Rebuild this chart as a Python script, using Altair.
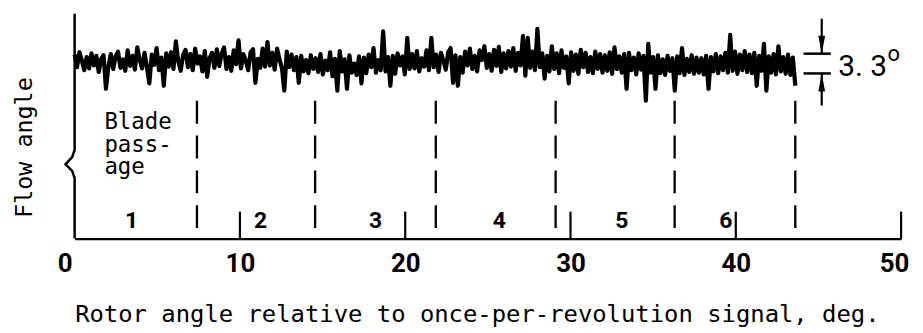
import altair as alt
import pandas as pd

# ---------------- data ----------------
x_tick_values = [0, 10, 20, 30, 40, 50]
tick_marks = [10, 20, 30, 40, 50]
passage_edges = [7.4, 14.55, 21.85, 29.1, 36.3, 43.6]
passage_labels = ["1", "2", "3", "4", "5", "6"]
passage_label_x = [3.45, 11.25, 18.2, 25.7, 33.1, 39.4]
scale_bar_deg = 3.3

trace_start = 0.0
trace_end = 43.6
# flow-angle trace, deg relative to mean (sampled left to right)
trace_vals = [
    1.2, -0.9, 1.6, 0.2, -1.4, 0.8, -1.1, 1.4, -0.6, 1.0, -1.7, 0.5, 1.1, -4.5, -0.8, 1.3, -1.2, 0.9, 1.7, -1.0,
    0.4, -1.5, 1.9, -0.7, 1.0, -1.3, 2.4, 0.3, -1.1, 1.5, -0.9, -3.6, 1.2, -0.5, 2.3, -1.4, 0.7, -4.0, 1.4, -0.8,
    1.6, -1.2, 3.4, 0.1, -1.5, 1.1, 2.0, -0.9, 1.3, -1.4, 2.2, -0.3, 0.9, -1.6, 1.8, -2.5, 0.6, 1.5, -1.0, 2.1,
    -0.7, 1.4, 2.4, -1.2, 0.8, -1.5, 1.9, -0.4, 3.6, -1.1, 1.3, 0.2, -1.4, 1.6, 2.1, -3.5, 0.5, -1.0, 2.2, -0.8,
    3.3, -0.6, 1.5, -1.3, 2.2, 0.4, -1.0, -4.8, 1.7, -0.9, 1.2, -1.4, 0.8, -3.5, 1.0, -1.6, 0.3, -1.9, 1.1, -1.2,
    0.6, -1.7, 1.3, -2.1, 0.2, -1.4, 1.6, -2.4, 0.5, -4.8, 1.8, -1.6, 0.4, -4.5, 1.1, -1.8, -0.3, -2.2, 0.9, -3.6,
    0.7, -1.9, 1.2, -0.9, 2.3, -1.8, 0.3, -1.4, 5.1, -1.6, 0.8, -4.0, 1.0, -2.0, 1.4, -0.6, 0.9, -2.1, 4.0, -1.2,
    1.3, -1.1, 1.8, -1.6, 0.6, -0.8, 1.9, -1.4, 4.0, -0.9, 1.2, -1.7, 1.5, 0.2, -1.3, 1.6, 2.3, -3.5, 1.1, -4.0,
    0.8, -1.8, 1.7, -0.6, 2.2, -1.2, 1.0, -1.6, 1.9, 0.3, 2.6, -1.0, 1.3, -1.5, 2.0, -0.7, 2.5, -1.7, 1.4, -1.1,
    1.8, -0.8, 2.3, -1.5, 1.5, -0.6, 4.3, -2.3, 4.0, -1.0, 1.7, -1.4, 5.5, -0.9, 1.4, -2.8, 1.0, -1.6, 2.6, -1.2,
    1.4, -1.9, 1.9, -1.0, 0.9, -3.6, 1.6, -1.5, 1.2, -2.0, 2.0, -0.9, 1.5, -1.7, 0.8, -1.9, 1.7, -1.2, 1.3, -1.8,
    1.1, -1.5, 1.6, -2.0, 2.4, -1.2, 0.9, -1.8, 1.3, -4.5, 1.5, -1.4, 0.7, -2.1, 1.4, -1.3, 1.0, -6.5, 3.0, -1.8,
    0.8, -4.5, 1.1, -1.9, 0.4, -2.2, 1.0, -1.5, 0.6, -4.8, 0.9, -1.9, 2.3, -2.2, 0.5, -1.7, 1.1, -2.0, 0.7, -1.8,
    0.6, -2.1, 1.0, -4.5, 0.8, -1.6, 1.3, -1.9, 0.9, -1.4, 1.5, -1.8, 4.5, -1.5, 1.7, -2.0, 1.2, -1.4, 1.8, -1.7,
    1.2, -1.9, 1.5, -4.0, 1.0, -1.5, 3.0, -4.8, 0.9, -1.8, 1.3, -2.1, 2.6, -1.6, 0.8, -2.0, 1.2, -2.2, 0.7, -4.0,
]

# ---------------- layout / style ----------------
Y_MIN, Y_MAX = -29.5, 8.5
X_MIN, X_MAX = 0, 50
dash_top = -6.5
tick_len = 4.5
text_font = "DejaVu Sans Mono"
num_font = "Roboto"

# y-axis line with break symbol (data units)
yline_x = [0, 0, -0.15, -0.55, -0.15, 0, 0]
yline_y = [8.0, -14.7, -15.9, -17.1, -18.2, -19.4, Y_MIN]

xscale = alt.Scale(domain=[X_MIN, X_MAX], nice=False, zero=False)
yscale = alt.Scale(domain=[Y_MIN, Y_MAX], nice=False, zero=False)

xaxis = alt.Axis(
    values=x_tick_values, ticks=False, tickSize=0, grid=False,
    domainColor="black", domainWidth=2.2,
    labelFont=num_font, labelFontWeight="bold", labelFontSize=26, labelColor="black",
    labelPadding=12, labelFlush=False,
    labelOffset={"expr": "datum.value == 0 ? -10 : (datum.value == 50 ? -7 : 0)"},
    title="Rotor angle relative to once-per-revolution signal, deg.",
    titleFont=text_font, titleFontSize=24, titleFontWeight="normal", titleColor="black",
    titleAnchor="start", titleAlign="left", titleX=0, titleY=64, titleBaseline="top",
)
yaxis = alt.Axis(
    domain=False, ticks=False, labels=False, grid=False,
    title="Flow angle", titleFont=text_font, titleFontSize=23.5, titleFontWeight="normal",
    titleColor="black", titleX=-50, titleY=137, titleAngle=270, titleAlign="center",
    titleBaseline="middle",
)


def X(field):
    return alt.X(field, type="quantitative", scale=xscale, axis=xaxis)


def Y(field):
    return alt.Y(field, type="quantitative", scale=yscale, axis=yaxis)


n = len(trace_vals)
step = (trace_end - trace_start) / (n - 1)
trace_df = pd.DataFrame({"x": [trace_start + i * step for i in range(n)], "y": trace_vals, "i": list(range(n))})

trace = alt.Chart(trace_df).mark_line(color="black", strokeWidth=4.2, strokeJoin="round").encode(
    x=X("x"), y=Y("y"), order=alt.Order("i:Q")
)

yline_df = pd.DataFrame({"x": yline_x, "y": yline_y, "i": list(range(len(yline_x)))})
yline = alt.Chart(yline_df).mark_line(color="black", strokeWidth=2.5).encode(
    x=X("x"), y=Y("y"), order=alt.Order("i:Q")
)

dash_df = pd.DataFrame({"x": passage_edges, "y": [dash_top] * len(passage_edges), "y2": [Y_MIN] * len(passage_edges)})
dashes = alt.Chart(dash_df).mark_rule(color="black", strokeWidth=2.3, strokeDash=[23, 12]).encode(
    x=X("x"), y=Y("y"), y2="y2"
)

tick_df = pd.DataFrame({"x": tick_marks, "y": [Y_MIN] * len(tick_marks), "y2": [Y_MIN + tick_len] * len(tick_marks)})
ticks = alt.Chart(tick_df).mark_rule(color="black", strokeWidth=2.2).encode(
    x=X("x"), y=Y("y"), y2="y2"
)

num_df = pd.DataFrame({"x": passage_label_x, "y": [-26.5] * len(passage_label_x), "t": passage_labels})
nums = alt.Chart(num_df).mark_text(
    font=num_font, fontSize=23, fontWeight="bold", color="black", baseline="middle", align="center"
).encode(x=X("x"), y=Y("y"), text="t:N")

blade_df = pd.DataFrame({"x": [1.8], "y": [-8.3], "t": ["Blade\npass-\nage"]})
blade = alt.Chart(blade_df).mark_text(
    font=text_font, fontSize=22.5, color="black", align="left", baseline="top", lineBreak="\n", lineHeight=22.5
).encode(x=X("x"), y=Y("y"), text="t:N")

# scale marker 3.3 deg
bar_top = 1.36
bar_bot = bar_top - scale_bar_deg
bars_df = pd.DataFrame({"x": [44.1, 44.1], "x2": [45.75, 45.75], "y": [bar_top, bar_bot]})
bars = alt.Chart(bars_df).mark_rule(color="black", strokeWidth=2.5).encode(
    x=X("x"), x2="x2", y=Y("y")
)
arrow_df = pd.DataFrame({"x": [45.2, 45.2], "y": [7.2, bar_bot], "y2": [bar_top, -7.3]})
arrow_lines = alt.Chart(arrow_df).mark_rule(color="black", strokeWidth=2.2).encode(
    x=X("x"), y=Y("y"), y2="y2"
)
head_dn = alt.Chart(pd.DataFrame({"x": [45.2], "y": [bar_top + 1.5]})).mark_point(
    shape="M-0.38,-1L0.38,-1L0,1Z", filled=True, color="black", size=324, opacity=1
).encode(x=X("x"), y=Y("y"))
head_up = alt.Chart(pd.DataFrame({"x": [45.2], "y": [bar_bot - 1.5]})).mark_point(
    shape="M-0.38,1L0.38,1L0,-1Z", filled=True, color="black", size=324, opacity=1
).encode(x=X("x"), y=Y("y"))

scale_txt = alt.Chart(pd.DataFrame({"x": [46.2], "y": [-0.9], "t": ["3. 3"]})).mark_text(
    font=num_font, fontSize=30, color="black", align="left", baseline="middle"
).encode(x=X("x"), y=Y("y"), text="t:N")
deg_txt = alt.Chart(pd.DataFrame({"x": [49.55], "y": [1.3], "t": ["o"]})).mark_text(
    font=num_font, fontSize=22, color="black", align="center", baseline="middle"
).encode(x=X("x"), y=Y("y"), text="t:N")

chart = alt.layer(
    trace, yline, dashes, ticks, nums, blade, bars, arrow_lines, head_dn, head_up, scale_txt, deg_txt
).properties(
    width=831, height=229,
    autosize=alt.AutoSizeParams(type="none"),
    padding={"left": 67, "top": 2, "right": 14, "bottom": 92},
    background="white",
).configure_view(strokeWidth=0)

chart.save("out.html", embed_options={"renderer": "svg", "actions": False})
